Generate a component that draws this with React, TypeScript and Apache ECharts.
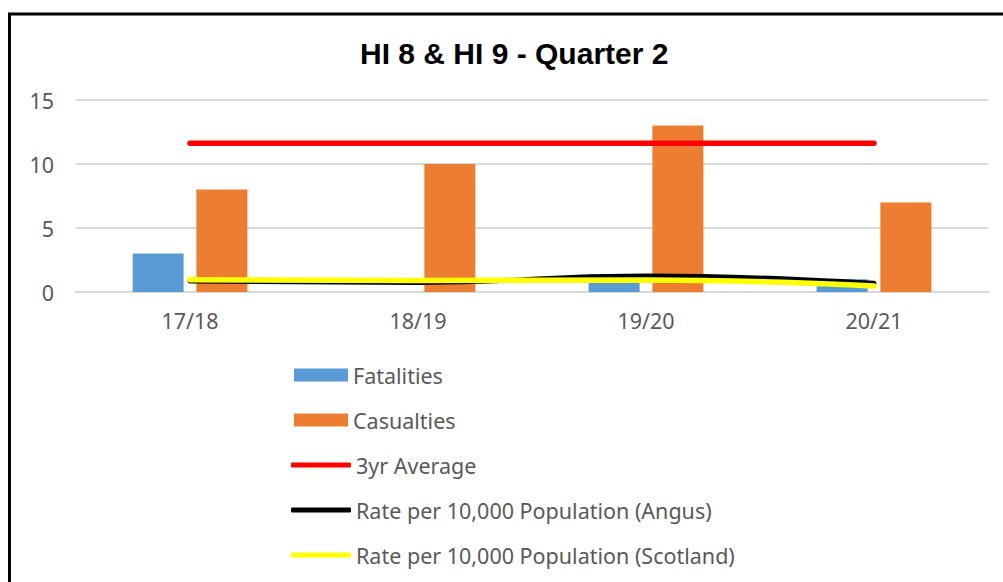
import React, { useEffect, useRef } from "react";
import * as echarts from "echarts";

const categories = ["17/18", "18/19", "19/20", "20/21"];
const fatalities = [3, 0, 1, 1];
const casualties = [8, 10, 13, 7];
const threeYrAverage = [11.63, 11.63, 11.63, 11.63];
const rateAngus = [0.85, 0.75, 1.25, 0.68];
const rateScotland = [0.95, 0.9, 0.93, 0.47];
const yTicks = { min: 0, max: 15, interval: 5 };

const FONT = "'Noto Sans', sans-serif";
const GREY = "#595959";

export default function App() {
  const ref = useRef<HTMLDivElement>(null);
  useEffect(() => {
    if (!ref.current) return;
    const chart = echarts.init(ref.current, undefined, { renderer: "svg" });
    const legendText = { color: GREY, fontSize: 21.5, fontFamily: FONT };
    const barLegend = (name: string, color: string, top: number) => ({
      orient: "vertical",
      left: 294,
      top,
      padding: 0,
      itemWidth: 54,
      itemHeight: 13,
      selectedMode: false,
      textStyle: legendText,
      data: [{ name, icon: "rect", itemStyle: { color } }],
    });
    const lineLegend = (name: string, color: string, top: number) => ({
      orient: "vertical",
      left: 291,
      top,
      padding: 0,
      itemWidth: 60,
      itemHeight: 5,
      selectedMode: false,
      textStyle: legendText,
      data: [{ name, icon: "roundRect", itemStyle: { color, borderWidth: 0 } }],
    });
    chart.setOption({
      animation: false,
      backgroundColor: "#fff",
      title: {
        text: "HI 8 & HI 9 - Quarter 2",
        left: 355,
        top: 33,
        textStyle: {
          fontFamily: "'Liberation Sans', Arial, sans-serif",
          fontWeight: "bold",
          fontSize: 30,
          color: "#000",
        },
      },
      graphic: [
        {
          type: "rect",
          shape: { x: 9.5, y: 14, width: 1010, height: 620 },
          style: { fill: "none", stroke: "#000", lineWidth: 3 },
          silent: true,
        },
      ],
      legend: [
        barLegend("Fatalities", "#5b9bd5", 364),
        barLegend("Casualties", "#ed7d31", 409),
        lineLegend("3yr Average", "#ff0000", 454),
        lineLegend("Rate per 10,000 Population (Angus)", "#000000", 499),
        lineLegend("Rate per 10,000 Population (Scotland)", "#ffff00", 544),
      ],
      grid: { left: 76, right: 15, top: 100, bottom: 290, containLabel: false },
      xAxis: {
        type: "category",
        data: categories,
        axisLine: { lineStyle: { color: "#d9d9d9", width: 2 } },
        axisTick: { show: false },
        axisLabel: { color: GREY, fontSize: 21.5, fontFamily: FONT, margin: 17 },
      },
      yAxis: {
        type: "value",
        min: yTicks.min,
        max: yTicks.max,
        interval: yTicks.interval,
        axisLine: { show: false },
        axisTick: { show: false },
        splitLine: { lineStyle: { color: "#d9d9d9", width: 2 } },
        axisLabel: { color: GREY, fontSize: 21.5, fontFamily: FONT, margin: 22 },
      },
      series: [
        {
          name: "Fatalities",
          type: "bar",
          data: fatalities,
          barWidth: 51,
          barGap: "25%",
          itemStyle: { color: "#5b9bd5" },
        },
        {
          name: "Casualties",
          type: "bar",
          data: casualties,
          barWidth: 51,
          barGap: "25%",
          itemStyle: { color: "#ed7d31" },
        },
        {
          name: "3yr Average",
          type: "line",
          data: threeYrAverage,
          symbol: "none",
          itemStyle: { color: "#ff0000" },
          lineStyle: { color: "#ff0000", width: 5.5, cap: "round" },
        },
        {
          name: "Rate per 10,000 Population (Angus)",
          type: "line",
          data: rateAngus,
          smooth: true,
          symbol: "none",
          itemStyle: { color: "#000000" },
          lineStyle: { color: "#000000", width: 5, cap: "round" },
        },
        {
          name: "Rate per 10,000 Population (Scotland)",
          type: "line",
          data: rateScotland,
          smooth: true,
          symbol: "none",
          itemStyle: { color: "#ffff00" },
          lineStyle: { color: "#ffff00", width: 5.5, cap: "round" },
        },
      ],
    });
    return () => chart.dispose();
  }, []);
  return (
    <div
      ref={ref}
      style={{ position: "fixed", left: 0, top: 0, width: 1003, height: 582 }}
    />
  );
}
